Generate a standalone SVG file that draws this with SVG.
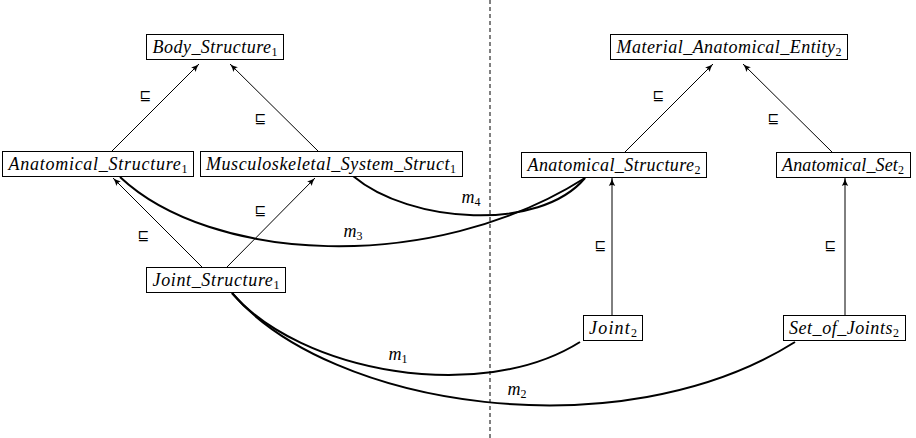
<svg xmlns="http://www.w3.org/2000/svg" width="916" height="438" viewBox="0 0 916 438">
<style>
.box{fill:#fff;stroke:#000;stroke-width:1}
text{font-family:'Liberation Serif','Times New Roman',serif}
.lbl{font-style:italic;font-size:18px;fill:#000;text-anchor:middle}
.sub{font-style:normal;font-size:12px}
.sq{font-family:'DejaVu Sans',sans-serif;font-size:14px;fill:#000;text-anchor:middle}
.ml{font-style:italic;font-size:18px;fill:#000;text-anchor:middle}
.sub2{font-style:normal;font-size:12px}
.isa{fill:none;stroke:#000;stroke-width:1;marker-end:url(#ah)}
.map{fill:none;stroke:#000;stroke-width:2}
.div{stroke:#000;stroke-width:1;stroke-dasharray:4,3}
</style>
<defs>
<marker id="ah" markerUnits="userSpaceOnUse" markerWidth="10" markerHeight="8" refX="8" refY="4" orient="auto">
<path d="M0,0.8 Q4,3.2 8,4 Q4,4.8 0,7.2 Q2,4 0,0.8 Z" fill="#000"/>
</marker>
</defs>
<line class="div" x1="490" y1="0" x2="490" y2="438"/>
<g id="connectors">
<line class="isa" x1="112" y1="151" x2="199" y2="64"/>
<line class="isa" x1="318" y1="151" x2="230" y2="64"/>
<line class="isa" x1="625" y1="152" x2="713" y2="64"/>
<line class="isa" x1="832" y1="152" x2="743" y2="64"/>
<line class="isa" x1="202" y1="267" x2="113" y2="178"/>
<line class="isa" x1="227" y1="267" x2="315" y2="178"/>
<line class="isa" x1="612" y1="315" x2="612" y2="178"/>
<line class="isa" x1="845" y1="315" x2="845" y2="178"/>
<path class="map" d="M120,177 C210,262 430,276 585,178"/>
<path class="map" d="M353,176 C410,224 540,232 585,178"/>
<path class="map" d="M232,293 C300,372 480,405 580,342"/>
<path class="map" d="M232,293 C330,408 620,452 795,342"/>
<text class="sq" x="145" y="100">⊑</text>
<text class="sq" x="260" y="123">⊑</text>
<text class="sq" x="658" y="100">⊑</text>
<text class="sq" x="773" y="123">⊑</text>
<text class="sq" x="143" y="240">⊑</text>
<text class="sq" x="260" y="215">⊑</text>
<text class="sq" x="600" y="250">⊑</text>
<text class="sq" x="830" y="250">⊑</text>
<text class="ml" x="353" y="237">m<tspan class="sub2" dy="3">3</tspan></text>
<text class="ml" x="471" y="203">m<tspan class="sub2" dy="3">4</tspan></text>
<text class="ml" x="398" y="360">m<tspan class="sub2" dy="3">1</tspan></text>
<text class="ml" x="517" y="395">m<tspan class="sub2" dy="3">2</tspan></text>
</g>
<g id="body_structure1">
<rect class="box" x="146.5" y="34.5" width="137" height="25"/>
<text class="lbl" x="215" y="53" textLength="125" lengthAdjust="spacing">Body_Structure<tspan class="sub" dy="3">1</tspan></text>
</g>
<g id="anatomical_structure1">
<rect class="box" x="2.5" y="151.5" width="191" height="25"/>
<text class="lbl" x="98" y="170" textLength="179" lengthAdjust="spacing">Anatomical_Structure<tspan class="sub" dy="3">1</tspan></text>
</g>
<g id="musculoskeletal_system_struct1">
<rect class="box" x="200.5" y="151.5" width="262" height="25"/>
<text class="lbl" x="331" y="170" textLength="250" lengthAdjust="spacing">Musculoskeletal_System_Struct<tspan class="sub" dy="3">1</tspan></text>
</g>
<g id="material_anatomical_entity2">
<rect class="box" x="610.5" y="34.5" width="237" height="25"/>
<text class="lbl" x="729" y="53" textLength="225" lengthAdjust="spacing">Material_Anatomical_Entity<tspan class="sub" dy="3">2</tspan></text>
</g>
<g id="anatomical_structure2">
<rect class="box" x="521.5" y="152.5" width="185" height="25"/>
<text class="lbl" x="614" y="171" textLength="173" lengthAdjust="spacing">Anatomical_Structure<tspan class="sub" dy="3">2</tspan></text>
</g>
<g id="anatomical_set2">
<rect class="box" x="776.5" y="152.5" width="134" height="25"/>
<text class="lbl" x="843" y="171" textLength="122" lengthAdjust="spacing">Anatomical_Set<tspan class="sub" dy="3">2</tspan></text>
</g>
<g id="joint_structure1">
<rect class="box" x="146.5" y="267.5" width="139" height="25"/>
<text class="lbl" x="216" y="286" textLength="127" lengthAdjust="spacing">Joint_Structure<tspan class="sub" dy="3">1</tspan></text>
</g>
<g id="joint2">
<rect class="box" x="583.5" y="315.5" width="59" height="25"/>
<text class="lbl" x="613" y="334" textLength="48" lengthAdjust="spacing">Joint<tspan class="sub" dy="3">2</tspan></text>
</g>
<g id="set_of_joints2">
<rect class="box" x="783.5" y="315.5" width="122" height="25"/>
<text class="lbl" x="844" y="334" textLength="110" lengthAdjust="spacing">Set_of_Joints<tspan class="sub" dy="3">2</tspan></text>
</g>
</svg>
